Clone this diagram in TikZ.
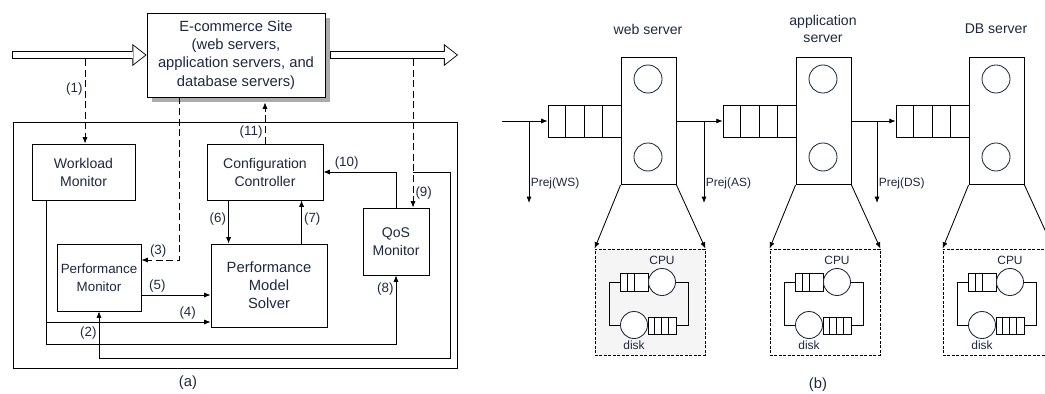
\documentclass[tikz,border=0pt]{standalone}
\usepackage{fontspec}
\setmainfont{Liberation Sans}
\usetikzlibrary{positioning,arrows.meta,shadows,calc}
\definecolor{ink}{RGB}{30,40,65}

\begin{document}
\begin{tikzpicture}[
    x=0.025cm, y=-0.025cm,
    line width=0.6pt,
    box/.style={draw, fill=white, align=center, inner sep=1pt, text=ink, font=\fontsize{10}{12.8}\selectfont},
    arrow/.style={-{Latex[length=4.5pt, width=3.6pt]}},
    dasharrow/.style={arrow, dash pattern=on 5pt off 2.5pt},
    flowline/.style={line width=5.4pt, -{Triangle[length=10pt, width=15.6pt, line width=0pt]}},
    flowfill/.style={white, line width=4.2pt, shorten <=0.6pt, shorten >=1pt, -{Triangle[length=8.4pt, width=13.1pt, line width=0pt]}},
    num/.style={text=ink, inner sep=1.5pt, font=\fontsize{9.5}{11}\selectfont},
    srvbox/.style={draw, minimum width=1.375cm, minimum height=3.175cm},
    unit/.style={draw=ink, circle, fill=white, inner sep=0pt},
    queue/.style={draw, fill=white, inner sep=0pt},
    zoombox/.style={draw, dash pattern=on 2pt off 1.2pt, minimum width=2.75cm, minimum height=2.65cm},
    tag/.style={text=ink, inner sep=1pt, font=\fontsize{8.5}{10}\selectfont},
    title/.style={text=ink, align=center, font=\fontsize{10}{12.5}\selectfont}
]
    \useasboundingbox (0,0) rectangle (1045,394);

    \node[box, minimum width=4.45cm, minimum height=2.1cm, font=\fontsize{10.5}{13}\selectfont,
          drop shadow={shadow xshift=0.12cm, shadow yshift=-0.12cm, fill=gray!65, opacity=1}] (site) at (236,55)
          {E-commerce Site\\(web servers,\\application servers, and\\database servers)};
    \node[box, minimum width=2.575cm, minimum height=1.4cm] (wm) at (83.5,172) {Workload\\Monitor};
    \node[box, minimum width=2.9cm, minimum height=1.4cm] (cc) at (265,172) {Configuration\\Controller};
    \node[box, minimum width=2.1cm, minimum height=1.675cm, font=\fontsize{9.5}{12.8}\selectfont] (pm) at (99,277.5) {Performance\\Monitor};
    \node[box, minimum width=2.9cm, minimum height=2.075cm, font=\fontsize{10.5}{12.8}\selectfont] (pms) at (269,285.5) {Performance\\Model\\Solver};
    \node[box, minimum width=1.65cm, minimum height=1.675cm] (qos) at (396,241.5) {QoS\\Monitor};
    \draw (13,122) rectangle (457,368);

    \coordinate (in) at (12,55);
    \coordinate (out) at (458,55);
    \coordinate (tap1) at (85,59);
    \coordinate (tap9) at (413,59);
    \coordinate (tap2) at (413,172);
    \coordinate (tap4) at (47,322);

    \draw[flowline] (in) -- (site.west);
    \draw[flowfill] (in) -- (site.west);
    \draw[flowline] ($(site.east)+(5,0)$) -- (out);
    \draw[flowfill] ($(site.east)+(5,0)$) -- (out);

    \draw[dasharrow] (tap1) -- (tap1 |- wm.north) node[num, pos=0.35, left] {(1)};
    \draw[dasharrow] ($(site.south west)+(33,0)$) |- ($(pm.east)+(0,-17.5)$) node[num, pos=0.78, above] {(3)};
    \draw[dasharrow] (cc.north) -- ($(cc.north |- site.south)+(0,5)$) node[num, pos=0.28, left] {(11)};
    \draw[dasharrow] (tap9) -- (tap9 |- qos.north) node[num, pos=0.9, right] {(9)};
    \draw[arrow] (qos.north) |- (cc.east) node[num, pos=0.84, above] {(10)};
    \draw[arrow] (tap2) -- ++(37,0) |- ($(pm.south)+(0,47)$) -- (pm.south) node[num, pos=0.53, left] {(2)};
    \draw[arrow] ($(wm.south west)+(15,0)$) |- ($(qos.south)+(0,69)$) -- (qos.south) node[num, pos=0.8, left] {(8)};
    \draw[arrow] (tap4) -- (tap4 -| pms.west) node[num, pos=0.86, above] {(4)};
    \draw[arrow] ($(pm.east)+(0,17.5)$) -- ($(pm.east -| pms.west)+(0,17.5)$) node[num, pos=0.23, above] {(5)};
    \draw[arrow] ($(cc.south west)+(22,0)$) -- ($(cc.south west |- pms.north)+(22,0)$) node[num, pos=0.43, left] {(6)};
    \draw[arrow] ($(pms.north west)+(91,0)$) -- ($(pms.north west |- cc.south)+(91,0)$) node[num, pos=0.57, right] {(7)};
    \node[title, font=\fontsize{10.5}{12}\selectfont] (capa) at (188,383) {(a)};

    \foreach \X/\s/\t/\n/\f in {621/web/WS/web server/gray!8, 796/app/AS/{application\\server}/white, 969/db/DS/DB server/white} {
        \node[srvbox] (srv\s) at (\X+27.5,121) {};
        \node[unit, minimum size=0.7cm] (top\s) at (\X+27,79) {};
        \node[unit, minimum size=0.7cm] (bot\s) at (\X+27,157) {};
        \node[queue, minimum width=1.825cm, minimum height=0.8cm] (q\s) at (\X-36.5,121) {};
        \foreach \c in {1,2,3}
            \draw ($(q\s.north west)+(\c*18.25,0)$) -- ($(q\s.south west)+(\c*18.25,0)$);
        \node[title] (title\s) at (\X+27,29) {\n};
        \node[zoombox, fill=\f] (zoom\s) at (\X+29,302) {};
        \draw[arrow] (srv\s.south west) -- (zoom\s.north west);
        \draw[arrow] (srv\s.south east) -- (zoom\s.north east);
        \node[queue, minimum width=0.7cm, minimum height=0.45cm] (cq\s) at (\X+13,282) {};
        \draw ($(cq\s.north west)+(8,0)$) -- ($(cq\s.south west)+(8,0)$);
        \draw ($(cq\s.north west)+(14.5,0)$) -- ($(cq\s.south west)+(14.5,0)$);
        \node[unit, minimum size=0.675cm] (cpu\s) at (\X+41,282) {};
        \node[tag, above=1pt of cpu\s] (cpulbl\s) {CPU};
        \node[unit, minimum size=0.675cm] (disk\s) at (\X+13,325) {};
        \node[tag, below=0pt of disk\s] (disklbl\s) {disk};
        \node[queue, minimum width=0.7cm, minimum height=0.425cm] (dq\s) at (\X+41,325.5) {};
        \foreach \c in {1,2,3}
            \draw ($(dq\s.north west)+(\c*7,0)$) -- ($(dq\s.south west)+(\c*7,0)$);
        \draw (cq\s.west) -- ++(-10,0) |- (disk\s.west);
        \draw (dq\s.east) -- ++(12,0) |- (cpu\s.east);
        \coordinate (br\s) at (\X-92,121);
        \draw[arrow] (br\s) -- ++(0,82) node[tag, pos=0.76, right] {Prej(\t)};
    }
    \coordinate (src) at (502,121);
    \draw[arrow] (src) -- (qweb.west);
    \draw[arrow] (srvweb.east) -- (qapp.west);
    \draw[arrow] (srvapp.east) -- (qdb.west);
    \node[title, font=\fontsize{10.5}{12}\selectfont] (capb) at (818,385) {(b)};
\end{tikzpicture}
\end{document}
